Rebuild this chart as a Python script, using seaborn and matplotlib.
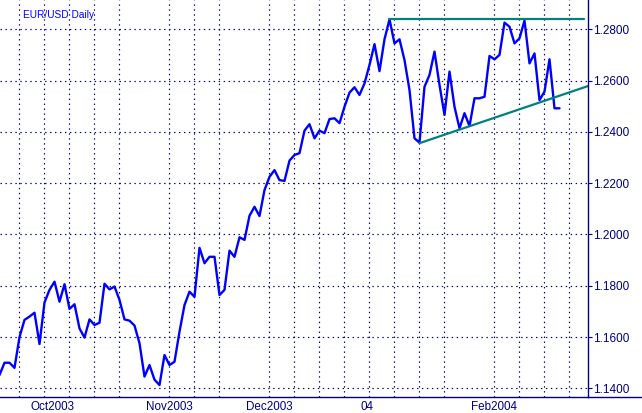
import matplotlib
matplotlib.use("Agg")
import matplotlib.pyplot as plt
import seaborn as sns
import pandas as pd
import numpy as np
from matplotlib.lines import Line2D
from matplotlib.transforms import ScaledTranslation

# ---------------- data ----------------
start_date = "2003-09-23"
prices = [
    1.1452, 1.1500, 1.1500, 1.1480, 1.1600, 1.1667, 1.1680, 1.1695, 1.1573, 1.1735,
    1.1784, 1.1816, 1.1738, 1.1806, 1.1710, 1.1728, 1.1634, 1.1598, 1.1669, 1.1647,
    1.1656, 1.1808, 1.1786, 1.1797, 1.1745, 1.1669, 1.1664, 1.1645, 1.1576, 1.1446,
    1.1491, 1.1434, 1.1413, 1.1530, 1.1491, 1.1504, 1.1621, 1.1725, 1.1777, 1.1757,
    1.1948, 1.1888, 1.1913, 1.1913, 1.1764, 1.1784, 1.1937, 1.1913, 1.1989, 1.1979,
    1.2073, 1.2108, 1.2072, 1.2173, 1.2225, 1.2251, 1.2212, 1.2209, 1.2288, 1.2310,
    1.2317, 1.2405, 1.2430, 1.2375, 1.2405, 1.2395, 1.2450, 1.2453, 1.2434, 1.2498,
    1.2553, 1.2574, 1.2544, 1.2589, 1.2661, 1.2742, 1.2637, 1.2761, 1.2839, 1.2745,
    1.2761, 1.2680, 1.2563, 1.2375, 1.2358, 1.2576, 1.2622, 1.2713, 1.2583, 1.2466,
    1.2635, 1.2498, 1.2414, 1.2473, 1.2423, 1.2531, 1.2531, 1.2537, 1.2696, 1.2683,
    1.2700, 1.2826, 1.2810, 1.2745, 1.2765, 1.2834, 1.2667, 1.2706, 1.2524, 1.2557,
    1.2683, 1.2492, 1.2492,
]
month_labels = ["Oct2003", "Nov2003", "Dec2003", "04", "Feb2004"]
y_ticks = [1.14, 1.16, 1.18, 1.20, 1.22, 1.24, 1.26, 1.28]

# trend lines (trading-day position, price)
resistance_x = [78.0, 116.9]
resistance_y = [1.2840, 1.2840]
support_x = [84.0, 118.5]
support_y = [1.2356, 1.2584]

title = "EUR/USD Daily"

# ---------------- figure ----------------
W, H = 642, 413
DPI = 100
sns.set_style("white")
plt.rcParams["font.family"] = ["Liberation Sans", "DejaVu Sans"]

navy = "#000080"
blue = "#0000FF"
teal = "#008080"

fig = plt.figure(figsize=(W / DPI, H / DPI), dpi=DPI)
axis_y_px = 396.7
ax = fig.add_axes([0, (H - axis_y_px) / H, 588 / W, axis_y_px / H])

n_axis = 118
axis_dates = pd.bdate_range(start_date, periods=n_axis)
pos = np.arange(len(prices))
df = pd.DataFrame({"pos": pos, "price": prices})

sns.lineplot(data=df, x="pos", y="price", ax=ax, color=blue, linewidth=1.7,
             estimator=None, sort=False)
sns.lineplot(x=resistance_x, y=resistance_y, ax=ax, color=teal, linewidth=1.6,
             estimator=None, sort=False)
sns.lineplot(x=support_x, y=support_y, ax=ax, color=teal, linewidth=1.6,
             estimator=None, sort=False)

ax.set_xlim(0.1, 117.7)
ax.set_ylim(1.13676, 1.29142)

# ticks
all_pos = np.arange(n_axis)
mondays = all_pos[axis_dates.weekday == 0]
month_start = []
prev = None
for i, d in enumerate(axis_dates):
    if prev is not None and d.month != prev.month:
        month_start.append(i)
    prev = d
month_start = month_start[:len(month_labels)]

ax.set_xticks(month_start)
ax.set_xticklabels(month_labels)
ax.set_xticks(mondays, minor=True)
ax.set_yticks(y_ticks)
ax.set_yticklabels([f"{v:.4f}" for v in y_ticks])
ax.yaxis.tick_right()
ax.set_xlabel("")
ax.set_ylabel("")

ax.tick_params(axis="x", which="major", direction="out", length=4.3, width=0.8,
               color=navy, labelcolor=navy, labelsize=8.4, pad=-1.2)
ax.tick_params(axis="x", which="minor", direction="out", length=2.4, width=0.8,
               color=navy)
ax.tick_params(axis="y", which="major", direction="out", length=3.0, width=0.8,
               color=navy, labelcolor=navy, labelsize=8.5, pad=0.5,
               left=False, right=True)

offset = ScaledTranslation(1.2 / DPI, 0, fig.dpi_scale_trans)
for lab in ax.get_xticklabels():
    lab.set_horizontalalignment("left")
    lab.set_transform(lab.get_transform() + offset)

# grid
grid_style = dict(color=navy, linewidth=0.85, linestyle=(0, (1.2, 3.0)))
ax.grid(False)
ax.xaxis.grid(True, which="minor", **grid_style)
ax.yaxis.grid(True, which="major", **grid_style)
ax.set_axisbelow(True)

for s in ["top", "left"]:
    ax.spines[s].set_visible(False)
ax.spines["right"].set_color(navy)
ax.spines["right"].set_linewidth(1.0)
ax.spines["bottom"].set_color(navy)
ax.spines["bottom"].set_linewidth(1.0)

fig.add_artist(Line2D([588 / W, 1.0], [(H - axis_y_px) / H] * 2,
                      color=navy, linewidth=1.0, transform=fig.transFigure))

fig.text(23 / W, 1 - 9.5 / H, title, ha="left", va="top", color=blue, fontsize=7.3)

fig.savefig("out.png", dpi=DPI)
